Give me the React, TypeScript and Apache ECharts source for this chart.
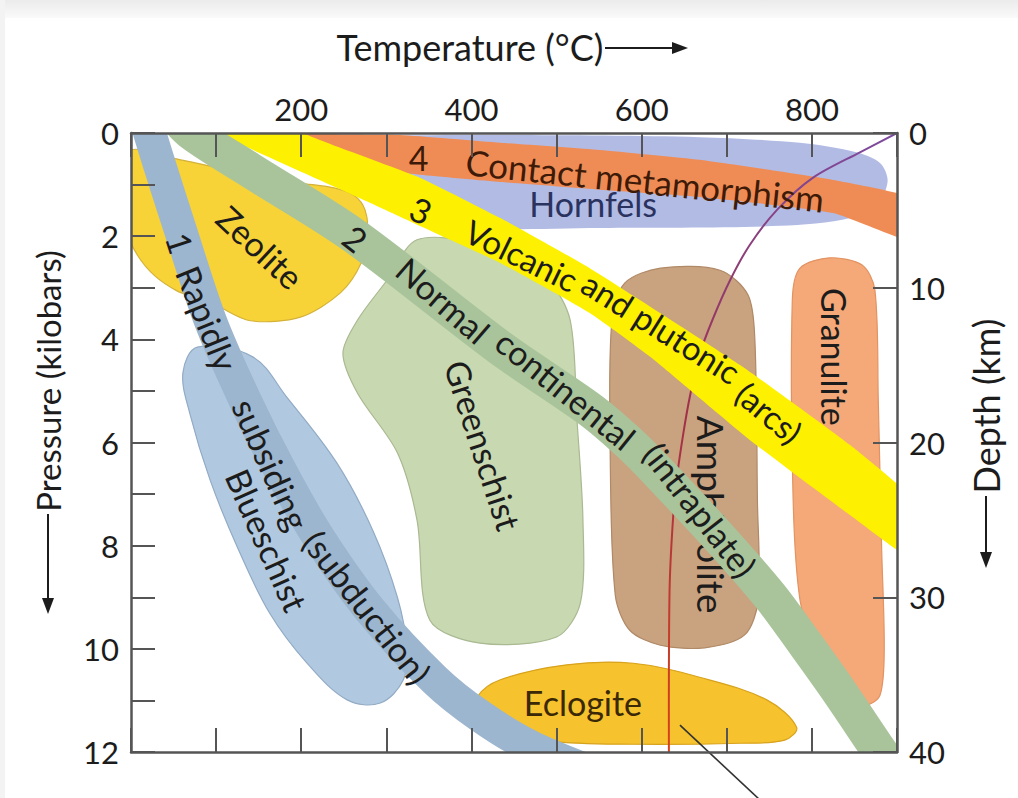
import React, { useEffect, useRef } from "react";
import * as echarts from "echarts";

type Pt = [number, number];

// ---- axis tick labels ----
const temperatureLabels = [200, 400, 600, 800];
const pressureLabels = [0, 2, 4, 6, 8, 10, 12];
const depthLabels = [0, 10, 20, 30, 40];

// ---- facies fields (Temperature °C, Pressure kbar) ----
const hornfels: Pt[] = [[199, 0.1], [246, 0.06], [434, 0.04], [668, 0.08], [786, 0.19], [851, 0.37], [880, 0.58], [889, 0.91], [880, 1.3], [845, 1.65], [763, 1.8], [551, 1.84], [375, 1.86], [340, 1.73], [310, 1.4], [269, 0.87], [222, 0.33]];
const zeolite: Pt[] = [[-4, 0.37], [58, 0.52], [140, 0.81], [199, 0.97], [240, 1.07], [263, 1.22], [275, 1.49], [278, 1.92], [271, 2.5], [246, 3.1], [199, 3.57], [140, 3.64], [99, 3.33], [75, 3.18], [54, 3.06], [28, 2.77], [8, 2.38], [-4, 1.92]];
const blueschist: Pt[] = [[78, 4.15], [143, 4.34], [183, 5.12], [242, 6.4], [284, 7.7], [313, 9.0], [324, 9.97], [320, 10.6], [293, 11.05], [254, 10.99], [207, 10.28], [163, 9.31], [125, 8.03], [93, 6.73], [69, 5.43], [61, 4.65]];
const greenschist: Pt[] = [[336, 2.07], [410, 2.17], [489, 2.85], [516, 3.63], [524, 5.56], [531, 7.5], [528, 9.11], [500, 9.77], [410, 9.89], [351, 9.44], [336, 7.5], [313, 6.2], [266, 5.04], [249, 4.27], [266, 3.63], [301, 2.85]];
const amphibolite: Pt[] = [[565, 3.63], [580, 2.91], [622, 2.62], [692, 2.66], [725, 3.14], [733, 4.01], [736, 7.12], [737, 9.05], [721, 9.73], [674, 9.98], [622, 9.93], [586, 9.64], [569, 8.96], [563, 6.15]];
const granulite: Pt[] = [[777, 3.24], [786, 2.62], [821, 2.42], [859, 2.56], [874, 3.04], [878, 5.18], [882, 8.08], [885, 10.02], [880, 10.9], [862, 11.09], [833, 10.8], [804, 10.02], [786, 9.05], [778, 7.12]];
const eclogite: Pt[] = [[407, 10.93], [434, 10.6], [512, 10.31], [590, 10.28], [668, 10.55], [747, 10.99], [782, 11.52], [768, 11.77], [716, 11.83], [590, 11.85], [492, 11.79], [434, 11.55], [410, 11.24]];

// ---- P-T paths ----
const contactBand: Pt[] = [[175, -0.16], [199, 0], [316, 0.04], [434, 0.19], [551, 0.33], [668, 0.52], [825, 0.91], [930, 1.32], [930, 2.16], [825, 1.55], [668, 1.24], [551, 1.1], [434, 0.95], [340, 0.81], [257, 0.62], [199, 0.33], [163, -0.16]];
const volcanicBand: Pt[] = [[190, -0.3], [202, 0], [340, 0.87], [434, 1.65], [539, 2.62], [716, 4.5], [845, 6.05], [930, 7.29], [930, 8.38], [845, 7.41], [727, 5.95], [610, 4.34], [539, 3.49], [434, 2.52], [375, 2.07], [266, 1.24], [101, 0], [85, -0.3]];
const normalPath: Pt[] = [[46, -0.45], [72, 0], [140, 0.72], [261, 1.98], [434, 4.17], [539, 5.36], [586, 6.02], [622, 6.62], [692, 7.86], [751, 8.98], [792, 9.9], [833, 10.85], [880, 12], [903, 12.54]];
const subductionPath: Pt[] = [[16, -0.45], [22, 0], [58, 1.88], [93, 3.63], [134, 5.18], [175, 6.53], [220, 7.83], [281, 9.25], [357, 10.6], [410, 11.3], [470, 11.9], [551, 12.45]];
const geotherm: Pt[] = [[900, 0], [857, 0.37], [801, 0.87], [759, 1.49], [727, 2.17], [704, 2.85], [683, 3.63], [668, 4.3], [657, 5.08], [649, 5.82], [641, 6.73], [637, 7.44], [633, 8.72], [632, 10.41], [632, 12]];
const leader: Pt[] = [[645, 11.48], [739, 12.93]];

// ---- labels ----
type Lab = { text: string; t: number; p: number; rot: number; color?: string; size?: number };
const topLabels: Lab[] = [
  { text: "Zeolite", t: 152, p: 2.21, rot: -43 },
  { text: "Blueschist", t: 160, p: 7.89, rot: -66 },
  { text: "Greenschist", t: 414, p: 6.05, rot: -72 },
  { text: "Granulite", t: 827, p: 4.34, rot: -90 },
  { text: "Eclogite", t: 531, p: 11.05, rot: 0, color: "#3a2806" },
  { text: "Hornfels", t: 543, p: 1.36, rot: 0, color: "#2a3260" },
  { text: "4", t: 338, p: 0.48, rot: 0, color: "#3e1a08" },
  { text: "Contact metamorphism", t: 604, p: 0.91, rot: -6, color: "#3e1a08", size: 35 },
  { text: "3", t: 341, p: 1.49, rot: -25 },
  { text: "Volcanic", t: 459, p: 2.37, rot: -26, size: 33 },
  { text: "and plutonic", t: 623, p: 3.77, rot: -32, size: 33 },
  { text: "(arcs)", t: 750, p: 5.42, rot: -40, size: 33 },
  { text: "2", t: 264, p: 2.04, rot: -38 },
  { text: "Normal", t: 367, p: 3.24, rot: -41 },
  { text: "continental", t: 511, p: 4.97, rot: -39 },
  { text: "(intraplate)", t: 669, p: 7.3, rot: -52 },
  { text: "1", t: 58, p: 2.13, rot: -72 },
  { text: "Rapidly", t: 90, p: 3.59, rot: -68 },
  { text: "subsiding", t: 165, p: 6.42, rot: -66 },
  { text: "(subduction)", t: 278, p: 9.19, rot: -52 },
];
const underLabels: Lab[] = [{ text: "Amphibolite", t: 682, p: 7.4, rot: -90, size: 37 }];

const FONT = "Lato, 'Open Sans', sans-serif";

function areaSeries(name: string, pts: Pt[], fill: string, stroke: string | null, z: number, smooth: number) {
  return {
    type: "custom",
    name,
    z,
    clip: true,
    silent: true,
    data: [[450, 6]],
    renderItem: (_p: any, api: any) => ({
      type: "polygon",
      shape: { points: pts.map((p) => api.coord(p)), smooth },
      style: { fill, stroke: stroke || "none", lineWidth: stroke ? 1.2 : 0 },
    }),
  };
}

function pathSeries(name: string, pts: Pt[], stroke: any, width: number, z: number, smooth: number, clip = true) {
  return {
    type: "custom",
    name,
    z,
    clip,
    silent: true,
    data: [[450, 6]],
    renderItem: (_p: any, api: any) => ({
      type: "polyline",
      shape: { points: pts.map((p) => api.coord(p)), smooth },
      style: { stroke, lineWidth: width, fill: "none", lineJoin: "round", lineCap: "butt" },
    }),
  };
}

function labelSeries(name: string, list: Lab[], z: number) {
  return {
    type: "custom",
    name,
    z,
    clip: false,
    silent: true,
    data: list.map((l) => [l.t, l.p]),
    renderItem: (params: any, api: any) => {
      const l = list[params.dataIndex];
      const c = api.coord([l.t, l.p]);
      return {
        type: "text",
        x: c[0],
        y: c[1],
        rotation: (l.rot * Math.PI) / 180,
        style: {
          text: l.text,
          fontSize: l.size || 34,
          fontFamily: FONT,
          fill: l.color || "#1c1c1c",
          align: "center",
          verticalAlign: "middle",
        },
      };
    },
  };
}

const axisLine = { show: true, onZero: false, lineStyle: { color: "#555555", width: 2.5 } };
const axisTick = { show: true, inside: true, length: 24, lineStyle: { color: "#555555", width: 2 } };
const tickFont = { fontSize: 31, fontFamily: FONT, color: "#1c1c1c" };

export default function App() {
  const ref = useRef<HTMLDivElement>(null);
  useEffect(() => {
    if (!ref.current) return;
    const chart = echarts.init(ref.current, undefined, { renderer: "svg" });
    const option: any = {
      animation: false,
      backgroundColor: "#ffffff",
      grid: { left: 131, right: 121, top: 133, bottom: 46, containLabel: false },
      xAxis: [
        { type: "value", position: "bottom", min: 0, max: 900, interval: 100, z: 30, axisLine, axisTick, axisLabel: { show: false }, splitLine: { show: false } },
        {
          type: "value", position: "top", min: 0, max: 900, interval: 100, z: 30, axisLine, axisTick,
          axisLabel: { ...tickFont, margin: 9, formatter: (v: number) => (temperatureLabels.includes(v) ? String(v) : "") },
          splitLine: { show: false },
        },
      ],
      yAxis: [
        {
          type: "value", position: "left", inverse: true, min: 0, max: 12, interval: 1, z: 30, axisLine, axisTick,
          axisLabel: { ...tickFont, margin: 12, formatter: (v: number) => (pressureLabels.includes(v) ? String(v) : "") },
          splitLine: { show: false },
        },
        {
          type: "value", position: "right", inverse: true, min: 0, max: 40, interval: 10, z: 30, axisLine, axisTick,
          axisLabel: { ...tickFont, margin: 12, formatter: (v: number) => (depthLabels.includes(v) ? String(v) : "") },
          splitLine: { show: false },
        },
      ],
      graphic: [
        {
          type: "rect", z: -10, shape: { x: 0, y: 0, width: 1018, height: 18 },
          style: { fill: new echarts.graphic.LinearGradient(0, 0, 0, 1, [{ offset: 0, color: "#ebebeb" }, { offset: 1, color: "#fafafa" }]) },
        },
        { type: "rect", z: -10, shape: { x: 0, y: 0, width: 5, height: 798 }, style: { fill: "#f3f3f3" } },
        { type: "text", x: 470, y: 47, style: { text: "Temperature (°C)", fontSize: 36, fontFamily: FONT, fill: "#1c1c1c", align: "center", verticalAlign: "middle" } },
        { type: "line", shape: { x1: 605, y1: 48, x2: 674, y2: 48 }, style: { stroke: "#1c1c1c", lineWidth: 2 } },
        { type: "polygon", shape: { points: [[672, 42], [688, 48], [672, 54]] }, style: { fill: "#1c1c1c" } },
        { type: "text", x: 48, y: 381, rotation: Math.PI / 2, style: { text: "Pressure (kilobars)", fontSize: 33, fontFamily: FONT, fill: "#1c1c1c", align: "center", verticalAlign: "middle" } },
        { type: "line", shape: { x1: 48, y1: 514, x2: 48, y2: 600 }, style: { stroke: "#1c1c1c", lineWidth: 2 } },
        { type: "polygon", shape: { points: [[42, 598], [54, 598], [48, 614]] }, style: { fill: "#1c1c1c" } },
        { type: "text", x: 986, y: 406, rotation: Math.PI / 2, style: { text: "Depth (km)", fontSize: 36, fontFamily: FONT, fill: "#1c1c1c", align: "center", verticalAlign: "middle" } },
        { type: "line", shape: { x1: 986, y1: 496, x2: 986, y2: 554 }, style: { stroke: "#1c1c1c", lineWidth: 2 } },
        { type: "polygon", shape: { points: [[980, 552], [992, 552], [986, 568]] }, style: { fill: "#1c1c1c" } },
      ],
      series: [
        areaSeries("Hornfels", hornfels, "#b2bbe4", null, 2, 0.3),
        areaSeries("Contact metamorphism", contactBand, "#ef8c55", null, 3, 0.15),
        areaSeries("Zeolite", zeolite, "#f7d337", "#d4b23a", 4, 0.3),
        areaSeries("Blueschist", blueschist, "#b1c9e0", "#92abc5", 5, 0.35),
        areaSeries("Greenschist", greenschist, "#c8d8b0", "#a9b992", 6, 0.3),
        areaSeries("Amphibolite", amphibolite, "#c9a27f", "#b08966", 7, 0.3),
        areaSeries("Granulite", granulite, "#f5a878", "#e29362", 8, 0.3),
        areaSeries("Eclogite", eclogite, "#f6c22d", "#d7a21c", 9, 0.35),
        pathSeries(
          "Geotherm", geotherm,
          new echarts.graphic.LinearGradient(0, 0, 0, 1, [
            { offset: 0, color: "#7d4a9e" },
            { offset: 0.45, color: "#a0304a" },
            { offset: 1, color: "#d9421a" },
          ]),
          2, 10, 0.3
        ),
        labelSeries("under labels", underLabels, 10),
        areaSeries("Volcanic and plutonic (arcs)", volcanicBand, "#fdf000", null, 11, 0.15),
        pathSeries("Normal continental (intraplate)", normalPath, "#a9c49b", 36, 12, 0.3),
        pathSeries("Rapidly subsiding (subduction)", subductionPath, "#9db6cf", 33, 13, 0.3),
        pathSeries("Leader", leader, "#333333", 1.6, 14, 0, false),
        labelSeries("labels", topLabels, 15),
      ],
    };
    chart.setOption(option);
    return () => chart.dispose();
  }, []);
  return <div ref={ref} style={{ position: "fixed", left: 0, top: 0, width: 1018, height: 798 }} />;
}
